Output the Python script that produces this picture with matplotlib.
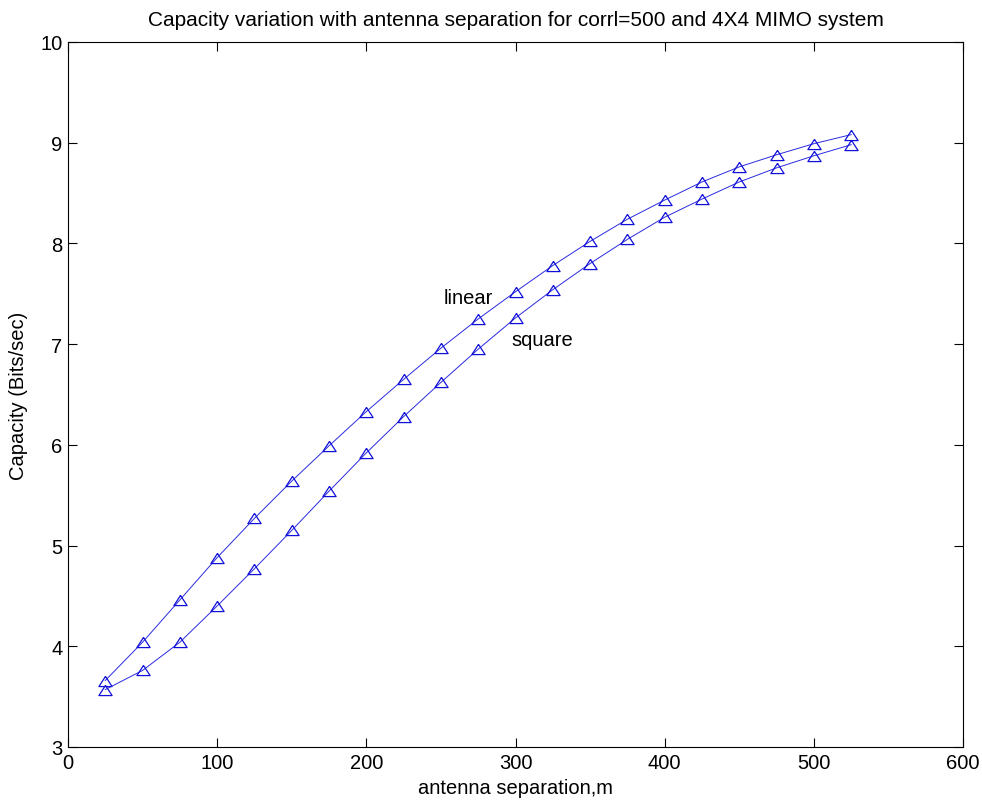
import numpy as np
import matplotlib.pyplot as plt

plt.rcParams['font.family'] = ['Liberation Sans', 'DejaVu Sans']

# antenna separation (m)
sep = [25, 50, 75, 100, 125, 150, 175, 200, 225, 250, 275,
       300, 325, 350, 375, 400, 425, 450, 475, 500, 525]

# capacity, bits/sec
cap_linear = [3.66, 4.04, 4.46, 4.88, 5.27, 5.64, 5.99, 6.33, 6.65, 6.96, 7.25,
              7.52, 7.78, 8.02, 8.24, 8.43, 8.61, 8.76, 8.88, 8.99, 9.08]
cap_square = [3.57, 3.76, 4.04, 4.40, 4.77, 5.15, 5.54, 5.92, 6.28, 6.62, 6.95,
              7.26, 7.54, 7.80, 8.04, 8.26, 8.44, 8.61, 8.75, 8.87, 8.98]

# matlab-ish triangle, a bit wider than tall
tri = [(0, 0.77), (-1, -0.77), (1, -0.77), (0, 0.77)]

fig = plt.figure(figsize=(9.82, 8.03), dpi=100)
ax = fig.add_axes([0.0692, 0.0685, 0.9115, 0.878])

for cap in (cap_linear, cap_square):
    ax.plot(sep, cap, color='#2a2ae0', lw=0.7, marker=tri, ms=9.5,
            mfc='none', mec='#1010d8', mew=0.9)

ax.text(252, 7.46, 'linear', fontsize=14.5, va='center', ha='left')
ax.text(297, 7.05, 'square', fontsize=14.5, va='center', ha='left')

ax.set_xlim(0, 600)
ax.set_ylim(3, 10)
ax.set_xticks(range(0, 601, 100))
ax.set_yticks(range(3, 11))
ax.tick_params(direction='in', length=6.5, width=0.8, top=True, right=True,
               labelsize=14.5, pad=4)
for s in ax.spines.values():
    s.set_linewidth(0.8)

ax.set_title('Capacity variation with antenna separation for corrl=500 and 4X4 MIMO system',
             fontsize=15, pad=12)
ax.set_xlabel('antenna separation,m', fontsize=14.5, labelpad=5)
ax.set_ylabel('Capacity (Bits/sec)', fontsize=14.5, labelpad=9)

fig.savefig('out.png', dpi=100)
